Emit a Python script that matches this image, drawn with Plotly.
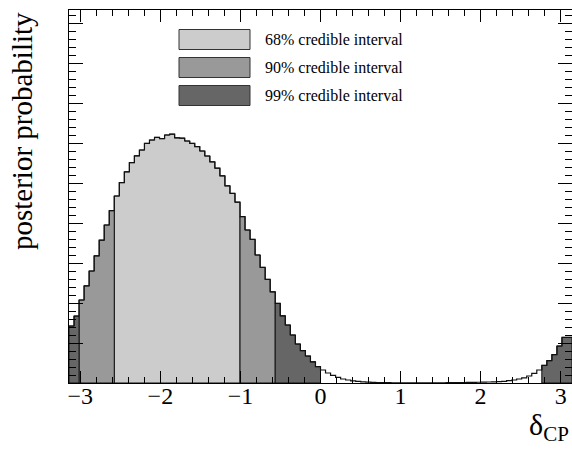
import numpy as np
import plotly.graph_objects as go

# ---------------- data ----------------
n_bins = 100
x_lo, x_hi = -np.pi, np.pi

posterior = [
    1.425, 1.675, 2.075, 2.43, 2.80, 3.18, 3.57, 3.95, 4.31, 4.675,
    5.01, 5.28, 5.51, 5.68, 5.825, 5.99, 6.075, 6.14, 6.11, 6.20,
    6.22, 6.13, 6.12, 6.05, 5.99, 5.91, 5.80, 5.675, 5.53, 5.37,
    5.18, 4.93, 4.74, 4.52, 4.16, 3.825, 3.59, 3.20, 2.89, 2.59,
    2.28, 1.99, 1.68, 1.45, 1.20, 0.975, 0.81, 0.675, 0.53, 0.41,
    0.325, 0.25, 0.19, 0.14, 0.10, 0.075, 0.055, 0.04, 0.03, 0.022,
    0.016, 0.012, 0.009, 0.007, 0.005, 0.004, 0.003, 0.003, 0.003, 0.003,
    0.003, 0.004, 0.004, 0.005, 0.006, 0.007, 0.008, 0.010, 0.012, 0.014,
    0.016, 0.019, 0.022, 0.025, 0.03, 0.035, 0.042, 0.058, 0.075, 0.10,
    0.13, 0.175, 0.24, 0.325, 0.44, 0.56, 0.71, 0.925, 1.14, 1.14,
]

interval_names = ["68% credible interval", "90% credible interval", "99% credible interval"]
interval_colors = ["#cccccc", "#999999", "#666666"]
# bin index ranges [start, stop) belonging to each interval band
interval_68_bins = [(9, 34)]
interval_90_bins = [(2, 9), (34, 41)]
interval_99_bins = [(0, 2), (41, 50), (94, 100)]
interval_bins = [interval_68_bins, interval_90_bins, interval_99_bins]

x_tick_vals = [-3, -2, -1, 0, 1, 2, 3]

# ---------------- figure ----------------
SERIF = "Liberation Serif, Times New Roman, Times, serif"
edges = np.linspace(x_lo, x_hi, n_bins + 1)
vals = np.array(posterior[:n_bins])

fig = go.Figure()

def band_path(a, b):
    xs = [edges[a]]
    ys = [0.0]
    for k in range(a, b):
        xs += [edges[k], edges[k + 1]]
        ys += [vals[k], vals[k]]
    xs += [edges[b], edges[a]]
    ys += [0.0, 0.0]
    return xs, ys

for ranges, color in zip(interval_bins, interval_colors):
    for a, b in ranges:
        xs, ys = band_path(a, b)
        fig.add_trace(go.Scatter(
            x=xs, y=ys, mode="lines", fill="toself", fillcolor=color,
            line=dict(color="#111111", width=1), showlegend=False,
            hoverinfo="skip"))

# total outline
fig.add_trace(go.Scatter(
    x=edges, y=np.append(vals, vals[-1]), mode="lines", line_shape="hv",
    line=dict(color="#111111", width=1.2), showlegend=False, hoverinfo="skip"))

W, H = 572, 452
ml, mr, mt, mb = 69, 0, 10, 69
pw, ph = W - ml - mr, H - mt - mb

def px_x(p):
    return (p - ml) / pw

def px_y(p):
    return (H - mb - p) / ph

# legend (manual, ROOT-style)
box_x0, box_x1 = 179, 250
box_tops = [29.5, 57.5, 85.5]
box_h = 20
shapes = []
annotations = []
for name, color, top in zip(interval_names, interval_colors, box_tops):
    shapes.append(dict(type="rect", xref="paper", yref="paper",
                       x0=px_x(box_x0), x1=px_x(box_x1),
                       y0=px_y(top + box_h), y1=px_y(top),
                       fillcolor=color, line=dict(color="#333333", width=1)))
    annotations.append(dict(xref="paper", yref="paper", x=px_x(263),
                            y=px_y(top + box_h / 2), xanchor="left",
                            yanchor="middle", showarrow=False, text=name,
                            font=dict(family=SERIF, size=16, color="black")))

annotations.append(dict(xref="paper", yref="paper", x=px_x(22), y=1.0,
                        xanchor="center", yanchor="top", textangle=-90,
                        showarrow=False, text="posterior probability",
                        font=dict(family=SERIF, size=29, color="black")))
annotations.append(dict(xref="paper", yref="paper", x=px_x(571),
                        y=px_y(448), xanchor="right", yanchor="bottom",
                        showarrow=False, text="δ<sub>CP</sub>",
                        font=dict(family=SERIF, size=30, color="black")))

fig.update_layout(
    width=W, height=H,
    margin=dict(l=ml, r=mr, t=mt, b=mb, pad=0),
    paper_bgcolor="white", plot_bgcolor="white",
    shapes=shapes, annotations=annotations,
    showlegend=False,
    xaxis=dict(range=[x_lo, x_hi], tickvals=x_tick_vals,
               ticks="inside", ticklen=12, tickwidth=1, tickcolor="black",
               showline=True, linecolor="black", linewidth=1,
               mirror="allticks", showgrid=False, zeroline=False,
               ticklabelstandoff=-9,
               tickfont=dict(family=SERIF, size=24, color="black"),
               minor=dict(dtick=0.2, tick0=0, ticks="inside", ticklen=6,
                          tickwidth=1, tickcolor="black", showgrid=False)),
    yaxis=dict(range=[0, 9.325], dtick=1, tick0=0,
               ticks="inside", ticklen=14, tickwidth=1, tickcolor="black",
               showline=True, linecolor="black", linewidth=1,
               mirror="allticks", showgrid=False, zeroline=False,
               showticklabels=False,
               minor=dict(dtick=0.2, tick0=0, ticks="inside", ticklen=7,
                          tickwidth=1, tickcolor="black", showgrid=False)),
)

fig.write_html("out.html")
